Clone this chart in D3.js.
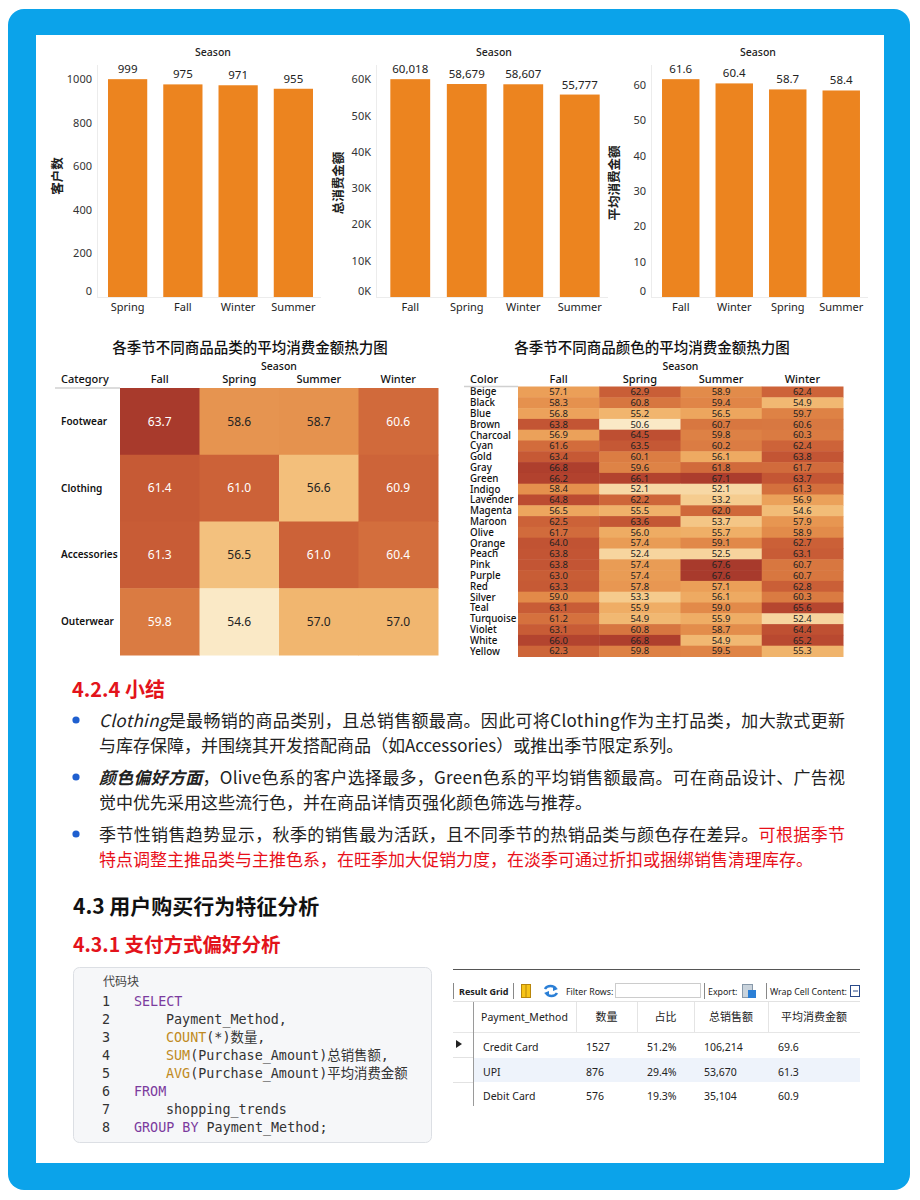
<!DOCTYPE html>
<html><head><meta charset="utf-8">
<script src="https://cdn.jsdelivr.net/npm/d3@7"></script>
<style>body{margin:0;background:#fff;} svg{display:block;}</style>
</head><body>
<svg id="c" width="920" height="1200"></svg>
<script>
// ---------------- DATA ----------------
const seasonsCustomers = ["Spring","Fall","Winter","Summer"];
const customerCounts = [999,975,971,955];
const seasonsTotal = ["Fall","Spring","Winter","Summer"];
const totalSales = [60018,58679,58607,55777];
const seasonsAvg = ["Fall","Winter","Spring","Summer"];
const avgSpend = [61.6,60.4,58.7,58.4];
const ticksCustomers = [0,200,400,600,800,1000];
const ticksTotal = [0,10000,20000,30000,40000,50000,60000];
const ticksAvg = [0,10,20,30,40,50,60];

const heatSeasons = ["Fall","Spring","Summer","Winter"];
const categories = ["Footwear","Clothing","Accessories","Outerwear"];
const categoryAvg = [
  [63.7,58.6,58.7,60.6],
  [61.4,61.0,56.6,60.9],
  [61.3,56.5,61.0,60.4],
  [59.8,54.6,57.0,57.0]
];
const colors = ["Beige","Black","Blue","Brown","Charcoal","Cyan","Gold","Gray","Green","Indigo","Lavender","Magenta","Maroon","Olive","Orange","Peach","Pink","Purple","Red","Silver","Teal","Turquoise","Violet","White","Yellow"];
const colorAvg = [
  [57.1,62.9,58.9,62.4],
  [58.3,60.8,59.4,54.9],
  [56.8,55.2,56.5,59.7],
  [63.8,50.6,60.7,60.6],
  [56.9,64.5,59.8,60.3],
  [61.6,63.5,60.2,62.4],
  [63.4,60.1,56.1,63.8],
  [66.8,59.6,61.8,61.7],
  [66.2,66.1,67.1,63.7],
  [58.4,52.1,52.1,61.3],
  [64.8,62.2,53.2,56.9],
  [56.5,55.5,62.0,54.6],
  [62.5,63.6,53.7,57.9],
  [61.7,56.0,55.7,58.9],
  [64.0,57.4,59.1,62.7],
  [63.8,52.4,52.5,63.1],
  [63.8,57.4,67.6,60.7],
  [63.0,57.4,67.6,60.7],
  [63.3,57.8,57.1,62.8],
  [59.0,53.3,56.1,60.3],
  [63.1,55.9,59.0,65.6],
  [61.2,54.9,55.9,52.4],
  [63.1,60.8,58.7,64.4],
  [66.0,66.8,54.9,65.2],
  [62.3,59.8,59.5,55.3]
];

const payHeaders = ["Payment_Method","数量","占比","总销售额","平均消费金额"];
const payMethods = ["Credit Card","UPI","Debit Card"];
const payCounts = [1527,876,576];
const payShares = ["51.2%","29.4%","19.3%"];
const payTotals = [106214,53670,35104];
const payAvgs = [69.6,61.3,60.9];

const codeLines = [
  [{t:"SELECT",k:"kw"}],
  [{t:"Payment_Method,",ind:1}],
  [{t:"COUNT",k:"fn",ind:1},{t:"(*)数量,"}],
  [{t:"SUM",k:"fn",ind:1},{t:"(Purchase_Amount)总销售额,"}],
  [{t:"AVG",k:"fn",ind:1},{t:"(Purchase_Amount)平均消费金额"}],
  [{t:"FROM",k:"kw"}],
  [{t:"shopping_trends",ind:1}],
  [{t:"GROUP BY",k:"kw"},{t:" Payment_Method;"}]
];

const bullets = [
  [[{t:"Clothing",i:1},{t:"是最畅销的商品类别，且总销售额最高。因此可将Clothing作为主打品类，加大款式更新"}],
   [{t:"与库存保障，并围绕其开发搭配商品（如Accessories）或推出季节限定系列。"}]],
  [[{t:"颜色偏好方面",i:1,b:1},{t:"，Olive色系的客户选择最多，Green色系的平均销售额最高。可在商品设计、广告视"}],
   [{t:"觉中优先采用这些流行色，并在商品详情页强化颜色筛选与推荐。"}]],
  [[{t:"季节性销售趋势显示，秋季的销售最为活跃，且不同季节的热销品类与颜色存在差异。"},{t:"可根据季节",r:1}],
   [{t:"特点调整主推品类与主推色系，在旺季加大促销力度，在淡季可通过折扣或捆绑销售清理库存。",r:1}]]
];

// ---------------- DRAW ----------------
const svg = d3.select("#c");
const F = "'Noto Sans','Noto Sans CJK SC',sans-serif";
const FC = "'Noto Sans CJK SC','Noto Sans',sans-serif";
const FM = "'DejaVu Sans Mono','Noto Sans CJK SC',monospace";

svg.append("rect").attr("x",8).attr("y",9).attr("width",902).attr("height",1181).attr("rx",16).attr("fill","#0ba3ea");
svg.append("rect").attr("x",36).attr("y",35).attr("width",848).attr("height",1128).attr("fill","#fff");

function barChart(o){
  const g = svg.append("g").attr("font-family",F);
  const x = d3.scaleBand().domain(o.cats).range([o.x0,o.x1]).paddingInner(o.pi).paddingOuter(o.pi/2);
  const y = d3.scaleLinear().domain([0, d3.max(o.vals)*1.065]).range([297,65]);
  g.append("line").attr("x1",o.ax+0.5).attr("x2",o.ax+0.5).attr("y1",65).attr("y2",297).attr("stroke","#ececec");
  g.append("line").attr("x1",o.ax).attr("x2",o.x1).attr("y1",297.5).attr("y2",297.5).attr("stroke","#ececec");
  const ya = g.append("g").attr("transform",`translate(${o.ax-5},0)`)
    .call(d3.axisLeft(y).tickValues(o.ticks).tickFormat(o.tickFmt).tickSize(0).tickPadding(0));
  ya.select(".domain").remove();
  ya.selectAll("text").attr("font-size",11).attr("fill","#333").attr("font-family",F)
    .attr("dy",d=>d===0?"-0.2em":"0.32em");
  g.selectAll("rect.bar").data(o.vals).join("rect").attr("class","bar")
    .attr("x",(d,i)=>x(o.cats[i])).attr("width",x.bandwidth())
    .attr("y",d=>y(d)).attr("height",d=>y(0)-y(d)).attr("fill","#ec841f");
  g.selectAll("text.vl").data(o.vals).join("text").attr("class","vl")
    .attr("x",(d,i)=>x(o.cats[i])+x.bandwidth()/2).attr("y",d=>y(d)-6)
    .attr("text-anchor","middle").attr("font-size",11.5).attr("fill","#222").text(o.labelFmt);
  const xa = g.append("g").attr("transform","translate(0,297)")
    .call(d3.axisBottom(x).tickSize(0).tickPadding(6));
  xa.select(".domain").remove();
  xa.selectAll("text").attr("font-size",11).attr("fill","#222").attr("font-family",F);
  g.append("text").attr("x",o.sx).attr("y",56).attr("text-anchor","middle")
    .attr("font-size",10.5).attr("font-weight",500).attr("fill","#222").text("Season");
  g.append("text").attr("transform",`translate(${o.tx},${o.ty}) rotate(-90)`)
    .attr("text-anchor","middle").attr("font-family",FC).attr("font-size",12.5).attr("font-weight",600)
    .attr("fill","#222").text(o.title);
}

barChart({cats:seasonsCustomers, vals:customerCounts, ax:97, x0:100, x1:321, pi:0.29,
  ticks:ticksCustomers, tickFmt:d=>d, labelFmt:d=>d, sx:213, tx:62, ty:176, title:"客户数"});
barChart({cats:seasonsTotal, vals:totalSales, ax:376, x0:382, x1:608, pi:0.295,
  ticks:ticksTotal, tickFmt:d=>(d/1000)+"K", labelFmt:d3.format(","), sx:494, tx:343, ty:183, title:"总消费金额"});
barChart({cats:seasonsAvg, vals:avgSpend, ax:651, x0:654, x1:868, pi:0.3,
  ticks:ticksAvg, tickFmt:d=>d, labelFmt:d3.format(".1f"), sx:758, tx:619, ty:183, title:"平均消费金额"});

const heatStops = ["#fae9c6","#f4c37b","#eb9b51","#d8763f","#c04e31","#a83a2c"];
function heat(o){
  const g = svg.append("g").attr("font-family",F);
  const x = d3.scaleBand().domain(heatSeasons).range([o.x0,o.x1]);
  const y = d3.scaleBand().domain(o.rows).range([o.y0,o.y1]);
  const c = d3.scaleSequential(d3.interpolateRgbBasis(heatStops)).domain(d3.extent(o.vals.flat()));
  o.vals.forEach((row,ri)=>{
    g.selectAll(null).data(row).join("rect")
      .attr("x",(d,ci)=>x(heatSeasons[ci])).attr("y",y(o.rows[ri]))
      .attr("width",x.bandwidth()+0.5).attr("height",y.bandwidth()+0.5).attr("fill",d=>c(d));
    g.selectAll(null).data(row).join("text")
      .attr("x",(d,ci)=>x(heatSeasons[ci])+x.bandwidth()/2).attr("y",y(o.rows[ri])+y.bandwidth()/2)
      .attr("dy","0.35em").attr("text-anchor","middle").attr("font-size",o.fs)
      .attr("fill",d=>o.white && d>=59.5?"#fff":"#222").text(d=>d.toFixed(1));
  });
  g.selectAll(null).data(o.rows).join("text").attr("x",o.lx).attr("y",d=>y(d)+y.bandwidth()/2)
    .attr("dy","0.35em").attr("font-size",o.lfs).attr("font-weight",o.lw).attr("fill","#111").text(d=>d);
  g.selectAll(null).data(heatSeasons).join("text").attr("x",d=>x(d)+x.bandwidth()/2).attr("y",383)
    .attr("text-anchor","middle").attr("font-size",11).attr("font-weight",500).attr("fill","#111").text(d=>d);
  g.append("text").attr("x",o.lx).attr("y",383).attr("font-size",11).attr("font-weight",500).attr("fill","#111").text(o.head);
  g.append("line").attr("x1",o.lx-6).attr("x2",o.x0).attr("y1",o.y0).attr("y2",o.y0).attr("stroke","#d0d0d0").attr("stroke-width",1.5);
  g.append("text").attr("x",(o.x0+o.x1)/2).attr("y",370).attr("text-anchor","middle")
    .attr("font-size",10.5).attr("font-weight",500).attr("fill","#111").text("Season");
  g.append("text").attr("x",o.tcx).attr("y",353).attr("text-anchor","middle").attr("font-family",FC)
    .attr("font-size",14.5).attr("font-weight",500).attr("fill","#111").text(o.title);
}
heat({rows:categories, vals:categoryAvg, x0:120, x1:438, y0:388, y1:655, fs:12, lx:61, lfs:10, lw:600, white:true,
  head:"Category", tcx:250, title:"各季节不同商品品类的平均消费金额热力图"});
heat({rows:colors, vals:colorAvg, x0:518, x1:843, y0:386.5, y1:656.5, fs:9.5, lx:470, lfs:9.8, lw:500, white:false,
  head:"Color", tcx:652, title:"各季节不同商品颜色的平均消费金额热力图"});

// ---------- Text section ----------
const tg = svg.append("g").attr("font-family",FC);
tg.append("text").attr("x",72).attr("y",697).attr("font-size",20).attr("font-weight",700).attr("fill","#e3131b").text("4.2.4 小结");
const lineY = [[727,752],[784,809],[841,866]];
bullets.forEach((b,bi)=>{
  tg.append("circle").attr("cx",76).attr("cy",lineY[bi][0]-7).attr("r",3.6).attr("fill","#1f5fcf");
  b.forEach((line,li)=>{
    const t = tg.append("text").attr("x",99).attr("y",lineY[bi][li]).attr("font-size",17).attr("fill","#222");
    if(li===0) t.attr("textLength",746).attr("lengthAdjust","spacing");
    line.forEach(s=>{
      t.append("tspan").text(s.t).attr("font-style",s.i?"italic":null)
        .attr("font-weight",s.b?700:null).attr("fill",s.r?"#e8101a":null);
    });
  });
});
tg.append("text").attr("x",73).attr("y",914).attr("font-size",21).attr("font-weight",700).attr("fill","#111").text("4.3 用户购买行为特征分析");
tg.append("text").attr("x",73).attr("y",952).attr("font-size",19.5).attr("font-weight",700).attr("fill","#e3131b").text("4.3.1 支付方式偏好分析");

// ---------- Code block ----------
const cg = svg.append("g");
cg.append("rect").attr("x",73.5).attr("y",967.5).attr("width",358).attr("height",175).attr("rx",6)
  .attr("fill","#f6f7f9").attr("stroke","#dcdfe4");
cg.append("text").attr("x",103).attr("y",986).attr("font-family",FC).attr("font-size",12).attr("fill","#444").text("代码块");
const codeColor = {kw:"#7b3b9e", fn:"#c08a22"};
codeLines.forEach((line,i)=>{
  const yy = 1006 + i*18;
  cg.append("text").attr("x",102).attr("y",yy).attr("font-family",FM).attr("font-size",13.4).attr("fill","#333").text(i+1);
  const t = cg.append("text").attr("x",line[0].ind?166:134).attr("y",yy).attr("font-family",FM).attr("font-size",13.4).attr("fill","#333");
  line.forEach(s=>t.append("tspan").text(s.t).attr("fill",s.k?codeColor[s.k]:null));
});

// ---------- Result grid ----------
const rg = svg.append("g").attr("font-family",F);
rg.append("line").attr("x1",453).attr("x2",860).attr("y1",969.5).attr("y2",969.5).attr("stroke","#555").attr("stroke-width",1.2);
[453,513,704,766].forEach(xx=>rg.append("line").attr("x1",xx+0.5).attr("x2",xx+0.5).attr("y1",983).attr("y2",999).attr("stroke","#888"));
rg.append("text").attr("x",459).attr("y",995).attr("font-size",9).attr("font-weight",700).attr("fill","#222").text("Result Grid");
rg.append("rect").attr("x",521.5).attr("y",984.5).attr("width",9).attr("height",13).attr("fill","#f6c419").attr("stroke","#b8860b");
rg.append("line").attr("x1",526).attr("x2",526).attr("y1",985).attr("y2",997).attr("stroke","#b8860b");
rg.append("path").attr("d","M545,989 a6,5 0 0,1 11,0 M557,993 a6,5 0 0,1 -11,0").attr("fill","none").attr("stroke","#2b7fd6").attr("stroke-width",2.5);
rg.append("path").attr("d","M553,986 l5,3 l-5,2 z M549,996 l-5,-3 l5,-2 z").attr("fill","#2b7fd6");
rg.append("text").attr("x",566).attr("y",995).attr("font-size",8.8).attr("fill","#222").text("Filter Rows:");
rg.append("rect").attr("x",615.5).attr("y",983.5).attr("width",85).attr("height",14).attr("fill","#fff").attr("stroke","#ccc");
rg.append("text").attr("x",708).attr("y",995).attr("font-size",8.8).attr("fill","#222").text("Export:");
rg.append("rect").attr("x",742.5).attr("y",984.5).attr("width",10).attr("height",13).attr("fill","#c9d3dc").attr("stroke","#8899aa");
rg.append("rect").attr("x",748).attr("y",990).attr("width",8).attr("height",8).attr("fill","#2b7fd6");
rg.append("text").attr("x",770).attr("y",995).attr("font-size",8.8).attr("fill","#222").text("Wrap Cell Content:");
rg.append("rect").attr("x",850.5).attr("y",985.5).attr("width",9).attr("height",11).attr("fill","#fff").attr("stroke","#2a4a8a");
rg.append("line").attr("x1",853).attr("x2",858).attr("y1",991).attr("y2",991).attr("stroke","#2a4a8a");

const colX = [473,576,637,694,768,860];
rg.append("rect").attr("x",473).attr("y",1058).attr("width",387).attr("height",24).attr("fill","#eef3fb");
rg.append("line").attr("x1",453).attr("x2",860).attr("y1",1001.5).attr("y2",1001.5).attr("stroke","#e2e2e2");
rg.append("line").attr("x1",453).attr("x2",860).attr("y1",1032.5).attr("y2",1032.5).attr("stroke","#e6e6e6");
colX.slice(1,5).forEach(xx=>rg.append("line").attr("x1",xx+0.5).attr("x2",xx+0.5).attr("y1",1002).attr("y2",1032).attr("stroke","#e4e4e4"));
[1057.5,1082.5].forEach(yy=>rg.append("line").attr("x1",453).attr("x2",473).attr("y1",yy).attr("y2",yy).attr("stroke","#e2e2e2"));
rg.append("line").attr("x1",473.5).attr("x2",473.5).attr("y1",1002).attr("y2",1106).attr("stroke","#9a9a9a");
rg.append("path").attr("d","M456,1040 l6,4 l-6,4 z").attr("fill","#222");
payHeaders.forEach((h,i)=>rg.append("text").attr("x",(colX[i]+colX[i+1])/2).attr("y",1021)
  .attr("text-anchor","middle").attr("font-family",i? FC:F).attr("font-size",i?11:10.5).attr("fill","#222").text(h));
const rowsOut = payMethods.map((m,i)=>[m, payCounts[i], payShares[i], d3.format(",")(payTotals[i]), payAvgs[i].toFixed(1)]);
rowsOut.forEach((r,ri)=>{
  r.forEach((v,ci)=>rg.append("text").attr("x",colX[ci]+10).attr("y",1051+ri*24.5)
    .attr("font-size",10.5).attr("fill","#222").text(v));
});
</script>
</body></html>
